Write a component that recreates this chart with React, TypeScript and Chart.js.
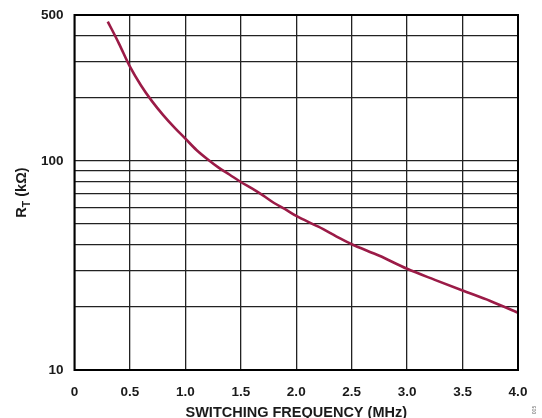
import React, { useEffect, useRef } from "react";
import { Chart, registerables } from "chart.js";

Chart.register(...registerables);

// Switching frequency (MHz) vs. timing resistor R_T (kΩ)
const freqMHz = [0.3, 0.4, 0.5, 0.6, 0.7, 0.8, 0.9, 1.0, 1.1, 1.2, 1.3, 1.4, 1.5, 1.6, 1.7, 1.8, 1.9, 2.0, 2.2, 2.4, 2.5, 2.75, 3.0, 3.25, 3.5, 3.75, 4.0];
const rtKOhm = [465, 366, 283, 230, 193, 166, 145, 128, 113, 102, 93, 86, 79.4, 74, 68.5, 63, 58.8, 54.6, 48.5, 42.5, 40, 35.2, 30.5, 27, 24, 21.4, 18.8];

const yGridValues = [10, 20, 30, 40, 50, 60, 70, 80, 90, 100, 200, 300, 400, 500];
const yLabelValues = [10, 100, 500];
const xTickStep = 0.5;

const xTitle = "SWITCHING FREQUENCY (MHz)";
const figureId = "005";

const FONT = "'Liberation Sans', Arial, Helvetica, sans-serif";
const CURVE = "#9b1b47";

const decorations = {
  id: "decorations",
  afterDraw(chart: any) {
    const { ctx, chartArea } = chart;
    const { left, right, top, bottom } = chartArea;
    ctx.save();
    // heavy plot frame
    ctx.strokeStyle = "#000";
    ctx.lineWidth = 2;
    ctx.strokeRect(left, top, right - left, bottom - top);

    // x-axis title
    ctx.fillStyle = "#1a1a1a";
    ctx.font = `bold 14.5px ${FONT}`;
    ctx.textAlign = "center";
    ctx.textBaseline = "alphabetic";
    ctx.fillText(xTitle, (left + right) / 2, 417);

    // y-axis title with subscript
    const main = `bold 14.5px ${FONT}`;
    const sub = `bold 10.5px ${FONT}`;
    ctx.font = main;
    const wR = ctx.measureText("R").width;
    const wRest = ctx.measureText(" (kΩ)").width;
    ctx.font = sub;
    const wT = ctx.measureText("T").width;
    const total = wR + wT + wRest;
    ctx.translate(26, (top + bottom) / 2);
    ctx.rotate(-Math.PI / 2);
    ctx.textAlign = "left";
    let x = -total / 2;
    ctx.font = main;
    ctx.fillText("R", x, 0);
    x += wR;
    ctx.font = sub;
    ctx.fillText("T", x, 3.5);
    x += wT;
    ctx.font = main;
    ctx.fillText(" (kΩ)", x, 0);
    ctx.restore();

    // figure number
    ctx.save();
    ctx.fillStyle = "#666";
    ctx.font = `5px ${FONT}`;
    ctx.translate(536, 410);
    ctx.rotate(-Math.PI / 2);
    ctx.textAlign = "center";
    ctx.fillText(figureId, 0, 0);
    ctx.restore();
  },
};

export default function App() {
  const canvasRef = useRef<HTMLCanvasElement | null>(null);

  useEffect(() => {
    const canvas = canvasRef.current;
    if (!canvas) return;
    const chart = new Chart(canvas, {
      type: "line",
      data: {
        datasets: [
          {
            data: freqMHz.map((f, i) => ({ x: f, y: rtKOhm[i] })),
            borderColor: CURVE,
            borderWidth: 2.6,
            pointRadius: 0,
            cubicInterpolationMode: "monotone",
            fill: false,
          },
        ],
      },
      options: {
        responsive: false,
        animation: false,
        events: [],
        layout: { padding: { top: 15, right: 24, left: 0, bottom: 0 } },
        plugins: {
          legend: { display: false },
          tooltip: { enabled: false },
        },
        scales: {
          x: {
            type: "linear",
            min: 0,
            max: 4,
            afterFit(scale: any) {
              scale.height = 48;
            },
            ticks: {
              stepSize: xTickStep,
              padding: 14,
              color: "#1a1a1a",
              font: { family: FONT, size: 13.5, weight: "bold" },
              callback: (v: any) => (Number(v) === 0 ? "0" : Number(v).toFixed(1)),
              maxRotation: 0,
            },
            grid: { color: "#222", lineWidth: 1.3, drawTicks: false },
            border: { display: false },
          },
          y: {
            type: "logarithmic",
            min: 10,
            max: 500,
            afterFit(scale: any) {
              scale.width = 74.5;
              scale.paddingTop = 0;
              scale.paddingBottom = 0;
            },
            afterBuildTicks(scale: any) {
              scale.ticks = yGridValues.map((v) => ({ value: v }));
            },
            ticks: {
              padding: 11,
              color: "#1a1a1a",
              font: { family: FONT, size: 13.5, weight: "bold" },
              autoSkip: false,
              callback: (v: any) => (yLabelValues.includes(Number(v)) ? String(v) : ""),
            },
            grid: { color: "#222", lineWidth: 1.3, drawTicks: false },
            border: { display: false },
          },
        },
      },
      plugins: [decorations],
    });
    return () => chart.destroy();
  }, []);

  return (
    <div style={{ position: "absolute", left: 0, top: 0, width: 542, height: 418, background: "#fff" }}>
      <canvas ref={canvasRef} width={542} height={418} />
    </div>
  );
}
